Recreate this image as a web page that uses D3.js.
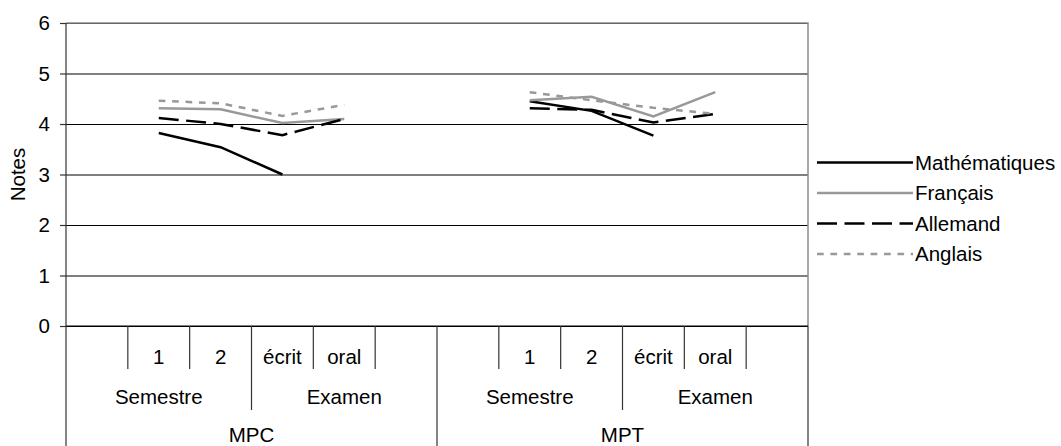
<!DOCTYPE html>
<html>
<head>
<meta charset="utf-8">
<script src="https://cdn.jsdelivr.net/npm/d3@7"></script>
<style>
  body { margin: 0; background: #fff; }
  svg { display: block; font-family: "Liberation Sans", Arial, sans-serif; }
  text { fill: #000; }
</style>
</head>
<body>
<svg width="1061" height="446"></svg>
<script>
// categories: class > period > item
const classes = ['MPC', 'MPT'];
const periods = ['Semestre', 'Examen'];
const items = [['', '1', '2'], ['écrit', 'oral', '']];

// one value per slot, null where nothing was drawn
const mathematiques = [null, 3.82, 3.54, 3.00, null, null,   null, 4.45, 4.26, 3.77, null, null];
const francais      = [null, 4.31, 4.29, 4.02, 4.10, null,   null, 4.47, 4.54, 4.15, 4.63, null];
const allemand      = [null, 4.12, 4.00, 3.78, 4.10, null,   null, 4.31, 4.28, 4.03, 4.20, null];
const anglais       = [null, 4.46, 4.41, 4.16, 4.38, null,   null, 4.63, 4.47, 4.32, 4.20, null];

const yTicks = [0, 1, 2, 3, 4, 5, 6];

const series = [
  {name: 'Mathématiques', values: mathematiques, color: '#000', dash: null},
  {name: 'Français', values: francais, color: '#999', dash: null},
  {name: 'Allemand', values: allemand, color: '#000', dash: '20,7.5'},
  {name: 'Anglais', values: anglais, color: '#999', dash: '6.7,6.7'}
];

const fontSize = '20.5px';

// flat list of slots
let slots = [];
classes.forEach((c, ci) => periods.forEach((p, pi) => items[pi].forEach((it, ii) => {
  slots.push({key: c + '|' + p + '|' + ii, cls: c, period: p, label: it, ci: ci, pi: pi, ii: ii});
})));

const plotLeft = 66, plotRight = 808, plotTop = 23, plotBottom = 326;

let svg = d3.select('svg');

let x = d3.scaleBand()
    .domain(slots.map(s => s.key))
    .range([plotLeft, plotRight])
    .padding(0);

let y = d3.scaleLinear()
    .domain([0, 6])
    .range([plotBottom, plotTop]);

// gridlines
svg.append('g')
    .attr('transform', `translate(${plotLeft},0)`)
    .call(d3.axisLeft(y).tickValues(yTicks).tickSize(-(plotRight - plotLeft)).tickFormat(''))
    .call(g => g.select('.domain').remove())
    .call(g => g.selectAll('line').attr('stroke', '#000').attr('stroke-width', 1));

// plot border top / right
svg.append('path')
    .attr('d', `M${plotLeft},${plotTop}H${plotRight}V${plotBottom}`)
    .attr('fill', 'none')
    .attr('stroke', '#8c8c8c')
    .attr('stroke-width', 1.5);

// y axis
let yAxis = svg.append('g')
    .attr('transform', `translate(${plotLeft},0)`)
    .call(d3.axisLeft(y).tickValues(yTicks).tickSize(6).tickPadding(10).tickFormat(d3.format('d')));
yAxis.select('.domain').remove();
yAxis.selectAll('line').attr('stroke', '#333').attr('stroke-width', 1.2);
yAxis.selectAll('text').style('font-size', fontSize).attr('fill', '#000');

svg.append('text')
    .attr('transform', `translate(25,${(plotTop + plotBottom) / 2}) rotate(-90)`)
    .attr('text-anchor', 'middle')
    .style('font-size', fontSize)
    .text('Notes');

// category axis
let xg = svg.append('g').attr('stroke', '#333').attr('stroke-width', 1.2);
xg.append('line')
    .attr('x1', plotLeft).attr('x2', plotRight)
    .attr('y1', plotBottom).attr('y2', plotBottom)
    .attr('stroke', '#000');

slots.forEach(s => {
  let x0 = x(s.key);
  if (s.pi === 0 && s.ii === 0) {
    // class boundary
    xg.append('line').attr('x1', x0).attr('x2', x0).attr('y1', s.ci === 0 ? plotTop : plotBottom).attr('y2', 446);
  } else if (s.pi === 1 && s.ii === 0) {
    xg.append('line').attr('x1', x0).attr('x2', x0).attr('y1', plotBottom).attr('y2', 410);
  } else {
    xg.append('line').attr('x1', x0).attr('x2', x0).attr('y1', plotBottom).attr('y2', 369);
  }
});
xg.append('line').attr('x1', plotRight).attr('x2', plotRight).attr('y1', plotBottom).attr('y2', 446);

svg.append('g').selectAll('text')
    .data(slots.filter(s => s.label))
    .enter().append('text')
    .attr('x', s => x(s.key) + x.bandwidth() / 2)
    .attr('y', 363.5)
    .attr('text-anchor', 'middle')
    .style('font-size', fontSize)
    .text(s => s.label);

let periodCells = [];
classes.forEach(c => periods.forEach(p => {
  let ks = slots.filter(s => s.cls === c && s.period === p).map(s => x(s.key));
  periodCells.push({name: p, mid: (d3.min(ks) + d3.max(ks) + x.bandwidth()) / 2});
}));
svg.append('g').selectAll('text')
    .data(periodCells)
    .enter().append('text')
    .attr('x', d => d.mid)
    .attr('y', 404)
    .attr('text-anchor', 'middle')
    .style('font-size', fontSize)
    .text(d => d.name);

let classCells = classes.map(c => {
  let ks = slots.filter(s => s.cls === c).map(s => x(s.key));
  return {name: c, mid: (d3.min(ks) + d3.max(ks) + x.bandwidth()) / 2};
});
svg.append('g').selectAll('text')
    .data(classCells)
    .enter().append('text')
    .attr('x', d => d.mid)
    .attr('y', 442)
    .attr('text-anchor', 'middle')
    .style('font-size', fontSize)
    .text(d => d.name);

// lines
let line = d3.line()
    .defined(d => d.v != null)
    .x(d => x(d.key) + x.bandwidth() / 2)
    .y(d => y(d.v));

svg.append('g').selectAll('path')
    .data(series)
    .enter().append('path')
    .attr('d', s => line(slots.map((sl, i) => ({key: sl.key, v: s.values[i]}))))
    .attr('fill', 'none')
    .attr('stroke', s => s.color)
    .attr('stroke-width', 2.5)
    .attr('stroke-dasharray', s => s.dash);

// legend
let legend = svg.append('g')
    .selectAll('g')
    .data(series)
    .enter().append('g')
    .attr('transform', (d, i) => `translate(817,${162.5 + i * 30.5})`);

legend.append('line')
    .attr('x1', 0).attr('x2', 96)
    .attr('stroke', d => d.color)
    .attr('stroke-width', 2.5)
    .attr('stroke-dasharray', d => d.dash);

legend.append('text')
    .attr('x', 98)
    .attr('y', 7)
    .style('font-size', fontSize)
    .text(d => d.name);
</script>
</body>
</html>
